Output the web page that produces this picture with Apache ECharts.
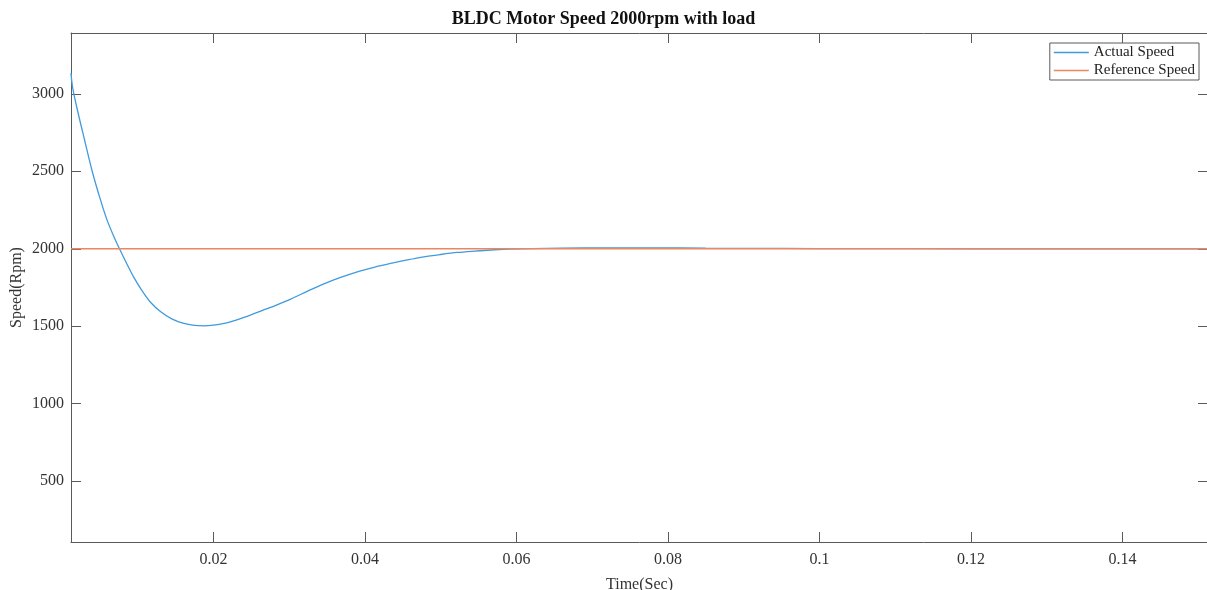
<!DOCTYPE html>
<html>
<head>
<meta charset="utf-8">
<script src="https://cdn.jsdelivr.net/npm/echarts@6/dist/echarts.min.js"></script>
<style>
html,body{margin:0;padding:0;background:#fff;}
#chart{width:1207px;height:590px;}
</style>
</head>
<body>
<div id="chart"></div>
<script>
// ---- data ----
const timeSec = [0.0012,0.0014,0.0020,0.0030,0.0040,0.0050,0.0060,0.0070,0.0076,0.0085,0.0095,0.0105,0.0117,0.0130,0.0145,0.0161,0.0175,0.0187,0.0200,0.0214,0.0230,0.0249,0.0265,0.0284,0.0302,0.0325,0.0346,0.0368,0.0390,0.0412,0.0434,0.0456,0.0478,0.0500,0.0522,0.0545,0.0566,0.0590,0.0620,0.0660,0.0720,0.0780,0.0850,0.0950,0.1050,0.1200,0.1513];
const actualSpeed = [3135,3045,2905,2700,2500,2330,2180,2063,2000,1910,1815,1735,1655,1595,1548,1518,1506,1503,1507,1518,1540,1572,1602,1638,1675,1728,1774,1815,1851,1880,1905,1928,1948,1963,1976,1985,1992,1997,2001,2004,2006,2006,2004,2002,2001,2000,2000];
const refTime = [0.0012, 0.1513];
const refSpeed = [2000, 2000];
const xTicks = [0.02,0.04,0.06,0.08,0.1,0.12,0.14];
const yTicks = [500,1000,1500,2000,2500,3000];
const seriesNames = ['Actual Speed','Reference Speed'];
const titleText = 'BLDC Motor Speed 2000rpm with load';
const xName = 'Time(Sec)';
const yName = 'Speed(Rpm)';

const FONT = 'Liberation Serif, Times New Roman, serif';
const AX = '#5a5a5a';
const X_MIN = 0.0012, X_MAX = 0.1513, Y_MIN = 108, Y_MAX = 3392;

function pairs(xs, ys){ return xs.map((x,i)=>[x, ys[i]]); }

const chart = echarts.init(document.getElementById('chart'), null, {renderer:'canvas'});
const tick = {show:true, inside:true, length:10, lineStyle:{color:AX, width:1}};
const axLine = {show:true, lineStyle:{color:AX, width:1}};
chart.setOption({
  animation:false,
  backgroundColor:'#fff',
  title:{
    text:titleText, left:'center', top:5,
    textStyle:{fontFamily:FONT, fontSize:18, fontWeight:'bold', color:'#111'}
  },
  legend:{
    orient:'vertical', right:8, top:43,
    padding:[2,4,2,4], itemGap:3, itemWidth:35, itemHeight:1.5, icon:'rect',
    borderColor:AX, borderWidth:1, backgroundColor:'#fff',
    textStyle:{fontFamily:FONT, fontSize:15, color:'#222', lineHeight:15},
    data:seriesNames
  },
  grid:{left:71, top:33, width:1137, height:509, containLabel:false, outerBoundsMode:'none'},
  xAxis:[{
    type:'value', min:X_MIN, max:X_MAX, position:'bottom',
    name:xName, nameLocation:'middle', nameGap:35, nameMoveOverlap:false,
    nameTextStyle:{fontFamily:FONT, fontSize:16, color:'#333'},
    axisLine:axLine,
    axisTick:Object.assign({customValues:xTicks}, tick),
    axisLabel:{customValues:xTicks, margin:10, fontFamily:FONT, fontSize:16, color:'#333',
      formatter:v=>String(+v.toFixed(3))},
    splitLine:{show:false}
  },{
    type:'value', min:X_MIN, max:X_MAX, position:'top',
    axisLine:axLine,
    axisTick:Object.assign({customValues:xTicks}, tick),
    axisLabel:{show:false}, splitLine:{show:false}
  }],
  yAxis:[{
    type:'value', min:Y_MIN, max:Y_MAX, position:'left',
    name:yName, nameLocation:'middle', nameGap:46, nameMoveOverlap:false,
    nameTextStyle:{fontFamily:FONT, fontSize:16, color:'#333'},
    axisLine:axLine,
    axisTick:Object.assign({customValues:yTicks}, tick),
    axisLabel:{customValues:yTicks, margin:7, fontFamily:FONT, fontSize:16, color:'#333',
      formatter:v=>String(v)},
    splitLine:{show:false}
  },{
    type:'value', min:Y_MIN, max:Y_MAX, position:'right',
    axisLine:axLine,
    axisTick:Object.assign({customValues:yTicks}, tick),
    axisLabel:{show:false}, splitLine:{show:false}
  }],
  series:[{
    name:seriesNames[0], type:'line', xAxisIndex:0, yAxisIndex:0,
    data:pairs(timeSec, actualSpeed), showSymbol:false, symbol:'none', smooth:0.3,
    lineStyle:{color:'#3f9ade', width:1.3}, itemStyle:{color:'#3f9ade'}
  },{
    name:seriesNames[1], type:'line', xAxisIndex:0, yAxisIndex:0,
    data:pairs(refTime, refSpeed), showSymbol:false, symbol:'none',
    lineStyle:{color:'#ec8560', width:1.3}, itemStyle:{color:'#ec8560'}
  }]
});
</script>
</body>
</html>
